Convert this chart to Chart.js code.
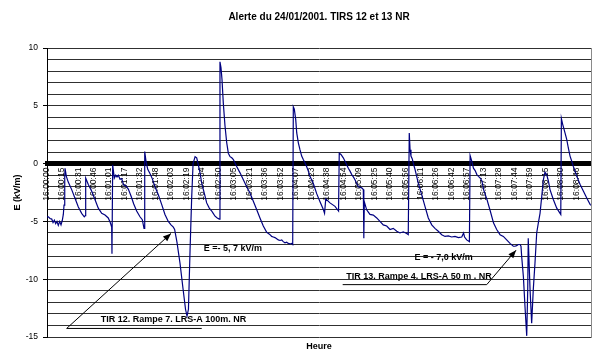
<!DOCTYPE html>
<html><head><meta charset="utf-8">
<script src="https://cdn.jsdelivr.net/npm/chart.js@4.4.0/dist/chart.umd.min.js"></script>
<style>html,body{margin:0;padding:0;background:#fff}#wrap{width:593px;height:353px}</style>
</head><body><div id="wrap"><canvas id="c" width="593" height="353"></canvas></div>
<script>
const chartTitle = 'Alerte du 24/01/2001. TIRS 12 et 13 NR';
const yTitle = 'E (kV/m)';
const xTitle = 'Heure';

const tickLabels = ['16:00:00','16:00:15','16:00:31','16:00:46','16:01:01','16:01:17','16:01:32','16:01:48',
 '16:02:03','16:02:19','16:02:34','16:02:50','16:03:05','16:03:21','16:03:36','16:03:52','16:04:07','16:04:23',
 '16:04:38','16:04:54','16:05:09','16:05:25','16:05:40','16:05:56','16:06:11','16:06:26','16:06:42','16:06:57',
 '16:07:13','16:07:28','16:07:44','16:07:59','16:08:15','16:08:30','16:08:46'];

// seconds after 16:00:00
const times = [
 0,1.3,3,4.7,6,7.3,8.6,9.9,11.2,12.6,13.9,15.2,16.2,16.9,17.6,17.9,
 19.2,21.1,24.5,27.8,31.1,34.4,37,38,38.4,
 41,44.4,47.6,50.9,54.3,57.6,60.8,62.8,64.2,64.5,65.2,
 66.8,68.2,69.5,70.8,72.5,74.1,76.1,78.1,80.7,83.4,86.1,89,92.3,94.6,96.3,97,
 98.3,100,102.2,104.5,107.2,110.5,113.9,117.1,120.4,123.1,125.4,126.7,129,132,135,137.5,139,140.4,142,143.6,145,147,148.6,150.2,151.9,153.6,155.2,156.8,158.5,161.1,163.5,165,166.8,169,171,171.7,
 172.7,173.7,175,176.7,178.4,180,181.7,183.4,185,186.6,188.3,191.6,194.9,198.2,201.5,204.8,208.2,211.4,214.7,218.1,219.8,221.4,223,224.6,226.3,228,229.6,231.3,233,234.5,236.2,237.9,239.5,241.2,242.8,243.9,244.5,
 245.5,246.9,247.9,249.5,251.1,252.8,254.4,256.1,257.7,259.4,261,264.3,267.7,271,274,275.5,276.7,280.9,285.9,289.4,290.1,
 291.8,294.1,295.8,297.5,299.1,300.8,302.5,304.1,305.7,307.4,309,312.4,314,314.5,315,317.3,320.6,323.9,327.3,330.5,333.8,337.2,340.5,343.7,347.2,350.4,353.7,357,358.6,359.6,
 360.4,361.3,362.6,364,365.3,368.6,372,375.2,378.5,381.9,385.1,388.4,391.8,395.1,398.4,401.7,405,408.4,411.7,413.5,414.5,416.6,419.3,420,
 421.7,423.3,425,426.7,428.3,430,431.7,433.4,436.7,440,443.3,446.4,449.7,453,456.3,459.6,462.9,464.5,466.2,467.9,469.5,470.5,471.2,472.9,474.5,476.2,477.2,477.7,479.5,481.1,482.7,484.4,486.1,487.7,489.4,491.1,492.7,494.3,496,497.7,499.3,502.6,506,509.3,510,
 510.6,511.9,514.2,515.9,517.5,519.2,520.9,522.5,525.9,529.2,532.5,535.9,539.2,540
];
// E field in kV/m
const fieldValues = [
 -4.6,-4.6,-4.75,-4.8,-5.1,-4.9,-5.2,-5.0,-5.35,-5.0,-5.3,-4.9,-4.4,-3.6,-1.2,-0.4,
 -1.1,-1.6,-2.25,-3.0,-3.75,-4.3,-4.6,-4.5,-1.25,
 -1.8,-2.4,-3.1,-3.85,-4.3,-4.45,-4.7,-5.1,-5.5,-7.8,-0.1,
 -1.25,-1.0,-1.15,-1.0,-1.35,-1.3,-1.85,-1.9,-2.2,-2.8,-3.5,-4.1,-4.6,-4.85,-5.6,1.05,
 0.2,-0.5,-0.85,-1.3,-2.0,-2.7,-3.55,-4.4,-5.0,-5.3,-5.5,-5.7,-6.8,-8.6,-10.8,-12.6,-13.2,-12.6,-7.5,-3.0,0.0,0.6,0.5,-0.1,-0.8,-1.7,-2.25,-2.8,-3.4,-3.85,-4.1,-4.3,-4.55,-4.7,-4.8,8.8,
 8.3,7.3,5.25,3.25,1.8,0.9,0.6,0.5,0.35,0.05,-0.25,-0.8,-1.4,-2.0,-2.55,-3.25,-4.0,-4.7,-5.4,-5.95,-6.05,-6.15,-6.3,-6.35,-6.4,-6.5,-6.6,-6.65,-6.6,-6.75,-6.85,-6.8,-6.9,-6.95,-6.9,-7.0,4.9,
 4.7,3.8,2.65,1.8,1.2,0.65,0.35,0.05,-0.25,-0.65,-1.1,-1.7,-2.6,-3.3,-3.9,-4.3,-3.05,-3.4,-3.7,-4.1,0.9,
 0.8,0.5,0.2,-0.1,-0.4,-0.65,-0.95,-1.15,-1.4,-1.7,-2.0,-2.1,-2.25,-6.45,-3.3,-4.0,-4.4,-4.45,-4.7,-5.0,-5.3,-5.4,-5.7,-5.6,-5.85,-6.0,-5.9,-6.05,-6.15,2.65,
 1.2,0.65,0.4,-0.1,-0.5,-1.7,-2.7,-3.7,-4.7,-5.3,-5.6,-5.85,-6.15,-6.3,-6.25,-6.35,-6.3,-6.4,-6.35,-6.0,-6.35,-6.6,-6.75,0.7,
 0.2,-0.4,-0.6,-0.95,-1.1,-1.25,-1.5,-2.25,-3.1,-4.1,-5.15,-5.7,-6.15,-6.3,-6.6,-6.9,-7.15,-7.15,-7.1,-7.0,-7.0,-7.15,-8.05,-9.8,-12.4,-14.9,-10.9,-6.45,-10.9,-13.8,-10.9,-8.6,-6.0,-5.15,-4.3,-2.85,-1.4,-0.75,-0.95,-1.5,-2.25,-3.1,-3.85,-4.3,-4.4,
 3.9,3.4,2.65,2.1,1.35,0.65,0.2,-0.25,-1.1,-1.8,-2.4,-3.0,-3.55,-3.6
];

// annotation texts (data coordinates: seconds, kV/m)
const noteTexts = [
 {text:'E =- 5, 7 kV/m', x:184.6, y:-7.32},
 {text:'E = - 7,0 kV/m', x:393.6, y:-8.13},
 {text:'TIR 12. Rampe 7. LRS-A 100m. NR', x:125.6, y:-13.48},
 {text:'TIR 13. Rampe 4. LRS-A 50 m . NR', x:369.3, y:-9.75}
];
// annotation lines [x1,y1,x2,y2,arrowhead]
const noteLines = [
 [19.5,-14.26,153.6,-14.26,false],
 [19.5,-14.26,123.1,-6.04,true],
 [293.5,-10.47,436.5,-10.47,false],
 [436.5,-10.47,465.6,-7.49,true]
];

const FONT = "'Liberation Sans', Arial, sans-serif";
const toSec = s => { const p = s.split(':').map(Number); return (p[0]-16)*3600 + p[1]*60 + p[2]; };

const notesPlugin = {
 id:'notes',
 afterDatasetsDraw(chart){
  const {ctx, scales:{x, y}, chartArea} = chart;
  ctx.save();
  ctx.strokeStyle = '#000'; ctx.fillStyle = '#000'; ctx.lineWidth = 1;
  noteLines.forEach(l => {
   const x1 = x.getPixelForValue(l[0]), y1 = y.getPixelForValue(l[1]);
   const x2 = x.getPixelForValue(l[2]), y2 = y.getPixelForValue(l[3]);
   ctx.beginPath(); ctx.moveTo(x1,y1); ctx.lineTo(x2,y2); ctx.stroke();
   if (l[4]) {
    const a = Math.atan2(y2-y1, x2-x1), L = 8, W = 3.2;
    ctx.beginPath();
    ctx.moveTo(x2,y2);
    ctx.lineTo(x2 - L*Math.cos(a) + W*Math.sin(a), y2 - L*Math.sin(a) - W*Math.cos(a));
    ctx.lineTo(x2 - L*Math.cos(a) - W*Math.sin(a), y2 - L*Math.sin(a) + W*Math.cos(a));
    ctx.closePath(); ctx.fill();
   }
  });
  ctx.font = 'bold 9px ' + FONT;
  ctx.textAlign = 'center'; ctx.textBaseline = 'middle';
  noteTexts.forEach(t => ctx.fillText(t.text, x.getPixelForValue(t.x), y.getPixelForValue(t.y)));
  // y axis title, centred on the plot area
  ctx.translate(18, (chartArea.top + chartArea.bottom) / 2);
  ctx.rotate(-Math.PI/2);
  ctx.font = 'bold 9px ' + FONT;
  ctx.fillText(yTitle, 0, 0);
  ctx.restore();
 }
};

new Chart(document.getElementById('c'), {
 type:'line',
 data:{ datasets:[{
  data: times.map((t,i)=>({x:t, y:fieldValues[i]})),
  borderColor:'#000080', borderWidth:1.2, pointRadius:0, tension:0, fill:false
 }]},
 options:{
  responsive:false, animation:false, devicePixelRatio:1,
  layout:{padding:{left:0,right:2,top:0,bottom:0}},
  plugins:{
   legend:{display:false}, tooltip:{enabled:false},
   title:{display:true, text:chartTitle, fullSize:false, color:'#000',
     font:{family:FONT, size:10, weight:'bold', lineHeight:1.2}, padding:{top:11,bottom:25}},
   subtitle:{display:true, position:'bottom', text:xTitle, fullSize:false, color:'#000',
     font:{family:FONT, size:9, weight:'bold', lineHeight:1.2}, padding:{top:4.5,bottom:0.7}}
  },
  scales:{
   x:{ type:'linear', min:0, max:540, position:{y:0},
     grid:{display:false, drawTicks:false},
     border:{display:true, color:'#000', width:5},
     afterBuildTicks: s => { s.ticks = tickLabels.map(l => ({value: toSec(l)})); },
     ticks:{ autoSkip:false, minRotation:90, maxRotation:90, padding:4, color:'#000',
       font:{family:FONT, size:8.5}, callback:(v,i)=>tickLabels[i] } },
   y:{ type:'linear', min:-15, max:10,
     afterFit: s => { s.width = 47; },
     grid:{ color:'#303030', lineWidth:1, drawTicks:true, tickLength:4,
       tickColor: c => (c.tick && c.tick.value % 5 === 0) ? '#000' : 'rgba(0,0,0,0)' },
     border:{display:true, color:'#000', width:1},
     ticks:{ stepSize:1, autoSkip:false, padding:5, color:'#000', font:{family:FONT, size:8.5},
       callback: v => (v % 5 === 0 ? String(v) : '') } },
   y2:{ type:'linear', position:'right', min:0, max:1,
     grid:{display:false, drawTicks:false}, ticks:{display:false},
     border:{display:true, color:'#8a8a8a', width:1} }
  }
 },
 plugins:[notesPlugin]
});
</script></body></html>
